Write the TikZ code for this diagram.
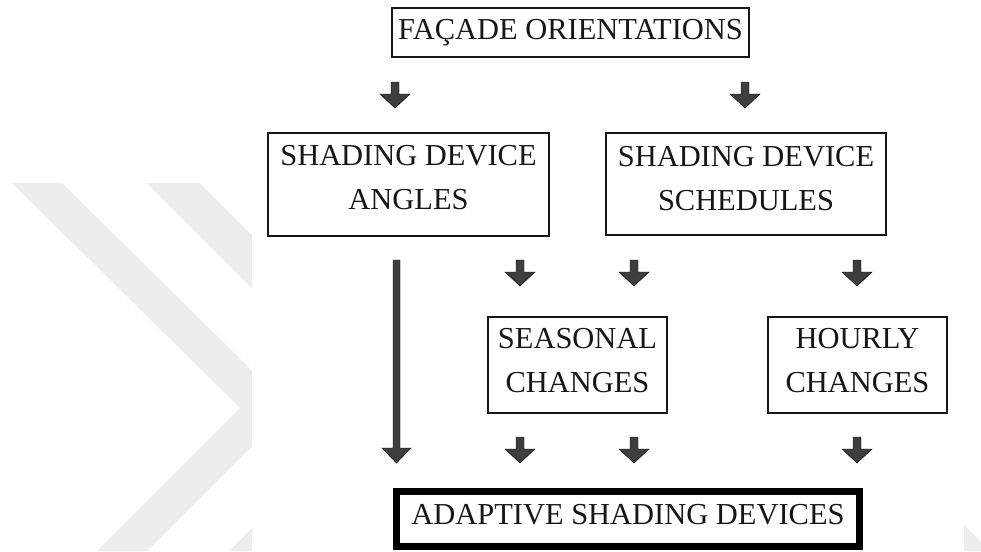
\documentclass[tikz,border=0pt]{standalone}
\usepackage{fontspec}
\setmainfont{Liberation Serif}
\usetikzlibrary{calc,fit}

\definecolor{wmark}{RGB}{237,237,237}
\definecolor{arrowgray}{RGB}{62,62,62}
\definecolor{ink}{RGB}{22,22,22}

% block arrow pointing down from #1 (top of shaft) to #2 (tip)
\newcommand\blockarrow[2]{%
  \filldraw[barrow] ($(#1)+(-4,0)$) -- ($(#1)+(4,0)$) -- ($(#2)+(4,-14)$)
    -- ($(#2)+(15,-14)$) -- (#2) -- ($(#2)+(-15,-14)$) -- ($(#2)+(-4,-14)$) -- cycle;}

\begin{document}
\begin{tikzpicture}[x=0.03cm,y=-0.03cm,
  box/.style={draw=ink, line width=0.035cm, inner sep=0pt},
  mainbox/.style={draw=black, line width=0.2cm, inner sep=0pt},
  boxtext/.style={font=\fontsize{26}{37.2}\selectfont, text=ink, align=center, inner sep=0pt},
  barrow/.style={fill=arrowgray, draw=black, line width=0.4pt, line join=miter},
]
\useasboundingbox (0,0) rectangle (981,551);
\fill[white] (0,0) rectangle (981,551);

% background chevrons
\fill[wmark] (12,183) -- (62,183) -- (290,408) -- (147,551) -- (97,551) -- (240,408) -- cycle;
\fill[wmark] (147,183) -- (200,183) -- (425,408) -- (282,551) -- (229,551) -- (372,408) -- cycle;
\fill[wmark] (964,525) -- (981,542) -- (981,551) -- (964,551) -- cycle;
\fill[white] (252,0) rectangle (964,551);

% boxes
\node[box, fit={(392,8) (749,57)}] (facade) {};
\node[box, fit={(268,133) (549,236)}] (angles) {};
\node[box, fit={(606,133) (886,235)}] (schedules) {};
\node[box, fit={(488,317) (667,413)}] (seasonal) {};
\node[box, fit={(768,317) (947,413)}] (hourly) {};
\node[mainbox, fit={(396.3,491.3) (859.7,546.7)}] (adaptive) {};

% box texts
\node[boxtext] (facadetext) at (facade.center) {FAÇADE ORIENTATIONS};
\node[boxtext] (anglestext) at ($(angles.center)+(0,-7)$) {SHADING DEVICE\\ANGLES};
\node[boxtext] (schedulestext) at ($(schedules.center)+(0,-5.5)$) {SHADING DEVICE\\SCHEDULES};
\node[boxtext] (seasonaltext) at ($(seasonal.center)+(0,-4.5)$) {SEASONAL\\CHANGES};
\node[boxtext] (hourlytext) at ($(hourly.center)+(0,-4.5)$) {HOURLY\\CHANGES};
\node[boxtext] (adaptivetext) at ($(adaptive.center)+(0,-4)$) {ADAPTIVE SHADING DEVICES};

% arrow end points
\coordinate (r1as) at (395,82);   \coordinate (r1ae) at (395,108);
\coordinate (r1bs) at (745,82);   \coordinate (r1be) at (745,108);
\coordinate (r2as) at (520,260);  \coordinate (r2ae) at (520,286);
\coordinate (r2bs) at (634,260);  \coordinate (r2be) at (634,286);
\coordinate (r2cs) at (857,260);  \coordinate (r2ce) at (857,286);
\coordinate (r3as) at (520,437);  \coordinate (r3ae) at (520,463);
\coordinate (r3bs) at (634,437);  \coordinate (r3be) at (634,463);
\coordinate (r3cs) at (857,437);  \coordinate (r3ce) at (857,463);
\coordinate (longs) at (396.5,260); \coordinate (longe) at (396.5,463);

% arrows
\blockarrow{r1as}{r1ae}
\blockarrow{r1bs}{r1be}
\blockarrow{r2as}{r2ae}
\blockarrow{r2bs}{r2be}
\blockarrow{r2cs}{r2ce}
\blockarrow{r3as}{r3ae}
\blockarrow{r3bs}{r3be}
\blockarrow{r3cs}{r3ce}
\filldraw[barrow] ($(longs)+(-3.5,0)$) -- ($(longs)+(3.5,0)$) -- ($(longe)+(3.5,-15)$)
  -- ($(longe)+(14.5,-15)$) -- (longe) -- ($(longe)+(-14.5,-15)$) -- ($(longe)+(-3.5,-15)$) -- cycle;
\end{tikzpicture}
\end{document}
